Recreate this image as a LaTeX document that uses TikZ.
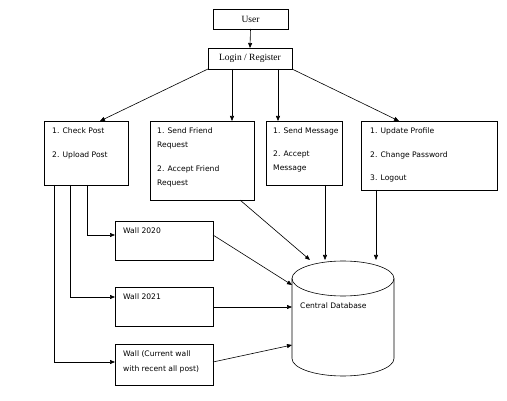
\documentclass[tikz,border=0pt]{standalone}
\usepackage{fontspec}
\setmainfont{DejaVu Sans}
\newfontfamily\serifft{Liberation Serif}
\usetikzlibrary{arrows.meta,calc}
\tikzset{
  box/.style={draw, line width=0.6pt, rectangle, inner sep=0pt, outer sep=0pt},
  txt/.style={anchor=west, inner sep=0pt, font=\fontsize{7.6}{9}\selectfont},
  stxt/.style={inner sep=0pt, font=\serifft\fontsize{9.5}{11}\selectfont},
  arr/.style={draw, line width=0.6pt, -{Triangle[length=5pt,width=4pt]}},
  ln/.style={draw, line width=0.6pt}
}
\begin{document}
\begin{tikzpicture}[x=1pt,y=-1pt]
\useasboundingbox (0,0) rectangle (507,401);
% boxes
\node[box, minimum width=75pt, minimum height=20pt] (user) at (250.5,19) {};
\node[stxt] (usert) at (user.center) {User};
\node[box, minimum width=84pt, minimum height=21pt] (login) at (250,58.5) {};
\node[stxt] (logint) at (login.center) {Login / Register};

\node[box, minimum width=84pt, minimum height=64pt] (cp) at (86,153) {};
\node[txt] (cp1) at (52,131) {1. Check Post};
\node[txt] (cp2) at (52,155) {2. Upload Post};

\node[box, minimum width=104pt, minimum height=79pt] (sf) at (202,160.5) {};
\node[txt] (sf1) at (157,131) {1. Send Friend};
\node[txt] (sf2) at (157,146) {Request};
\node[txt] (sf3) at (157,169) {2. Accept Friend};
\node[txt] (sf4) at (157,184) {Request};

\node[box, minimum width=76pt, minimum height=64pt] (sm) at (304,153) {};
\node[txt] (sm1) at (273,131) {1. Send Message};
\node[txt] (sm2) at (273,154) {2. Accept};
\node[txt] (sm3) at (273,169) {Message};

\node[box, minimum width=136pt, minimum height=69pt] (up) at (429,155.5) {};
\node[txt] (up1) at (370,131) {1. Update Profile};
\node[txt] (up2) at (370,155) {2. Change Password};
\node[txt] (up3) at (370,178) {3. Logout};

\node[box, minimum width=98pt, minimum height=39pt] (w20) at (164,240.5) {};
\node[txt] (w20t) at (123,231) {Wall 2020};
\node[box, minimum width=98pt, minimum height=39pt] (w21) at (164,306.5) {};
\node[txt] (w21t) at (123,297) {Wall 2021};
\node[box, minimum width=98pt, minimum height=41pt] (wc) at (164,364.5) {};
\node[txt] (wct1) at (123,354) {Wall (Current wall};
\node[txt] (wct2) at (123,369) {with recent all post)};

% database cylinder
\draw[line width=0.6pt] (343,278.5) ellipse [x radius=51pt, y radius=17.5pt];
\draw[line width=0.6pt] (292,278.5) -- (292,358.5)
  arc[start angle=180, end angle=360, x radius=51pt, y radius=17.5pt] -- (394,278.5);
\node[txt] (dbt) at (300,306) {Central Database};
\coordinate (dbA) at (310,260);
\coordinate (dbB) at (325,260);
\coordinate (dbC) at (376,260);
\coordinate (dbD) at (292,285);
\coordinate (dbE) at (292,307);
\coordinate (dbF) at (292,345);

% connectors
\draw[arr] (user.south) -- (login.north);
\draw[arr] (login.south west) -- ([xshift=14pt]cp.north);
\draw[arr] ([xshift=-18pt]login.south) -- ([xshift=-18pt]login.south |- sf.north);
\draw[arr] ([xshift=28pt]login.south) -- ([xshift=28pt]login.south |- sm.north);
\draw[arr] (login.south east) -- ([xshift=-30pt]up.north);

\draw[arr] ([xshift=43pt]cp.south west) |- ([yshift=5.5pt]w20.west);
\draw[arr] ([xshift=26pt]cp.south west) |- ([yshift=9.5pt]w21.west);
\draw[arr] ([xshift=10pt]cp.south west) |- ([yshift=2.5pt]wc.west);

\draw[arr] ([xshift=38pt]sf.south) -- (dbA);
\draw[arr] ([xshift=21pt]sm.south) -- (dbB);
\draw[arr] ([xshift=-53pt]up.south) -- (dbC);
\draw[arr] ([yshift=5.5pt]w20.east) -- (dbD);
\draw[arr] ([yshift=-0.5pt]w21.east) -- (dbE);
\draw[arr] ([yshift=2.5pt]wc.east) -- (dbF);
\end{tikzpicture}
\end{document}
